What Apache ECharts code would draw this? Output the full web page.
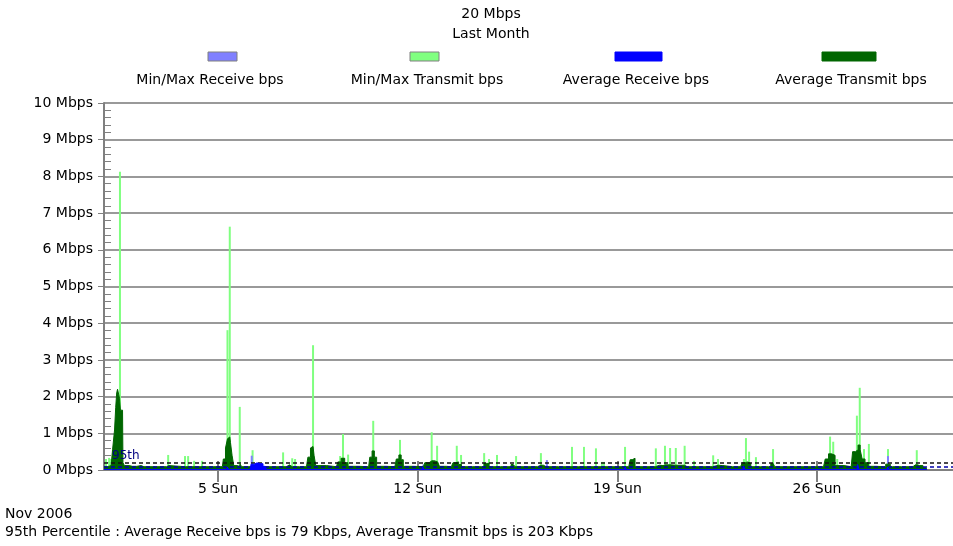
<!DOCTYPE html>
<html>
<head>
<meta charset="utf-8">
<script src="https://cdn.jsdelivr.net/npm/echarts@6/dist/echarts.min.js"></script>
<style>
html, body { margin: 0; padding: 0; background: #fff; }
#chart { width: 953px; height: 546px; }
</style>
</head>
<body>
<div id="chart"></div>
<script>
// x = days since Nov 1 2006 00:00, y = Mbps
const weekTicks = [4, 11, 18, 25]
const weekLabels = ['5 Sun', '12 Sun', '19 Sun', '26 Sun']

const maxTransmit = [
  [0.07, 0.3], [0.18, 0.33], [0.25, 0.3], [0.56, 8.13], [2.25, 0.41], [2.84, 0.38],
  [2.95, 0.38], [3.16, 0.25], [3.44, 0.25], [4.33, 3.81], [4.41, 6.63], [4.76, 1.72],
  [5.21, 0.54], [6.28, 0.48], [6.6, 0.32], [6.7, 0.3], [7.33, 3.4], [8.28, 0.38],
  [8.38, 0.98], [8.56, 0.42], [9.44, 1.34], [10.38, 0.82], [11.49, 1.03], [11.68, 0.66],
  [12.37, 0.66], [12.52, 0.41], [13.33, 0.46], [13.5, 0.3], [13.78, 0.41], [14.45, 0.38],
  [15.32, 0.46], [16.41, 0.63], [16.83, 0.63], [17.25, 0.59], [17.46, 0.22], [17.53, 0.22],
  [18.27, 0.63], [18.52, 0.3], [19.35, 0.59], [19.67, 0.66], [19.85, 0.6], [20.05, 0.6],
  [20.36, 0.66], [20.69, 0.25], [21.36, 0.4], [21.53, 0.3], [22.44, 0.3], [22.51, 0.87],
  [22.62, 0.5], [22.86, 0.35], [23.46, 0.57], [25.46, 0.91], [25.57, 0.77], [25.71, 0.3],
  [26.4, 1.48], [26.5, 2.24], [26.65, 0.57], [26.82, 0.71], [27.49, 0.57], [28.5, 0.54]
]

const maxReceive = [
  [5.18, 0.39], [11.2, 0.15], [15.53, 0.27], [26.4, 0.15], [27.49, 0.38]
]

const avgTransmit = [
  [0, 0.09], [0.25, 0.12], [0.35, 0.55], [0.39, 1.09], [0.43, 1.7], [0.46, 2.1], [0.49, 2.2],
  [0.53, 2.18], [0.56, 1.95], [0.59, 1.63], [0.65, 1.63], [0.68, 0.2], [0.75, 0.12],
  [1.0, 0.1], [1.3, 0.12], [1.4, 0.09], [2.2, 0.09], [2.25, 0.12], [2.3, 0.09],
  [3.4, 0.09], [3.44, 0.14], [3.5, 0.09],
  [4.15, 0.09], [4.22, 0.3], [4.3, 0.6], [4.36, 0.85], [4.41, 0.9], [4.46, 0.75], [4.52, 0.4],
  [4.58, 0.12], [4.75, 0.1], [4.8, 0.16], [4.85, 0.09],
  [6.4, 0.09], [6.5, 0.14], [6.6, 0.09],
  [7.1, 0.09], [7.2, 0.35], [7.28, 0.6], [7.33, 0.64], [7.4, 0.4], [7.45, 0.12],
  [8.15, 0.09], [8.25, 0.22], [8.38, 0.32], [8.5, 0.2], [8.6, 0.1],
  [9.28, 0.09], [9.36, 0.35], [9.44, 0.52], [9.52, 0.35], [9.6, 0.1],
  [10.2, 0.09], [10.3, 0.3], [10.38, 0.41], [10.46, 0.28], [10.53, 0.1],
  [11.2, 0.09], [11.3, 0.2], [11.5, 0.25], [11.7, 0.22], [11.82, 0.1],
  [12.18, 0.09], [12.3, 0.2], [12.37, 0.22], [12.5, 0.15], [12.57, 0.09],
  [13.25, 0.09], [13.4, 0.18], [13.6, 0.09],
  [14.2, 0.09], [14.35, 0.15], [14.48, 0.09],
  [15.2, 0.09], [15.32, 0.13], [15.5, 0.09],
  [16.38, 0.09], [16.42, 0.12], [16.46, 0.09], [16.8, 0.09], [16.84, 0.12], [16.88, 0.09],
  [17.22, 0.09], [17.26, 0.12], [17.3, 0.09],
  [18.4, 0.09], [18.5, 0.28], [18.55, 0.32], [18.69, 0.09],
  [19.33, 0.09], [19.37, 0.13], [19.6, 0.12], [19.7, 0.14], [20.05, 0.13], [20.35, 0.13], [20.45, 0.09],
  [21.34, 0.09], [21.4, 0.13], [21.7, 0.12], [21.76, 0.09],
  [22.32, 0.09], [22.45, 0.2], [22.52, 0.22], [22.62, 0.18], [22.74, 0.09],
  [23.3, 0.09], [23.46, 0.18], [23.58, 0.09],
  [25.23, 0.09], [25.35, 0.3], [25.46, 0.44], [25.57, 0.4], [25.7, 0.12],
  [26.2, 0.09], [26.3, 0.5], [26.4, 0.55], [26.48, 0.68], [26.55, 0.55], [26.62, 0.3],
  [26.75, 0.2], [26.85, 0.1],
  [27.33, 0.09], [27.49, 0.16], [27.65, 0.09],
  [28.28, 0.09], [28.45, 0.14], [28.6, 0.12], [28.83, 0.06], [28.86, 0]
]

const avgReceive = [
  [0, 0.015], [4.3, 0.015], [4.35, 0.08], [4.4, 0.015],
  [5.12, 0.015], [5.2, 0.16], [5.35, 0.19], [5.5, 0.17], [5.65, 0.1], [5.75, 0.015],
  [11.15, 0.015], [11.2, 0.08], [11.25, 0.015], [18.25, 0.015], [18.3, 0.08], [18.35, 0.015],
  [22.4, 0.015], [22.45, 0.1], [22.5, 0.015], [26.4, 0.015], [26.45, 0.15], [26.5, 0.015],
  [27.45, 0.015], [27.5, 0.08], [27.55, 0.015], [28.86, 0.015], [28.87, 0]
]

const p95Receive = 0.079
const p95Transmit = 0.203

const legendItems = [
  { name: 'Min/Max Receive bps', color: '#8080ff', x: 208, w: 29, cx: 210, border: '#808080' },
  { name: 'Min/Max Transmit bps', color: '#80ff80', x: 410, w: 29, cx: 427, border: '#808080' },
  { name: 'Average Receive bps', color: '#0000ff', x: 615, w: 47, cx: 636, border: '#0000ff' },
  { name: 'Average Transmit bps', color: '#006600', x: 822, w: 54, cx: 851, border: '#006600' },
]

const FONT = '14px "DejaVu Sans"'
const chart = echarts.init(document.getElementById('chart'))

const graphic = []
legendItems.forEach(it => {
  graphic.push({
    type: 'rect',
    shape: { x: it.x, y: 52, width: it.w, height: 9 },
    style: { fill: it.color, stroke: it.border, lineWidth: 1 },
  })
  graphic.push({
    type: 'text', x: it.cx, y: 80,
    style: { text: it.name, font: FONT, fill: '#000', align: 'center', verticalAlign: 'middle' },
  })
})
graphic.push({
  type: 'text', x: 491, y: 14,
  style: { text: '20 Mbps', font: FONT, fill: '#000', align: 'center', verticalAlign: 'middle' },
})
graphic.push({
  type: 'text', x: 491, y: 34,
  style: { text: 'Last Month', font: FONT, fill: '#000', align: 'center', verticalAlign: 'middle' },
})
graphic.push({
  type: 'text', x: 5, y: 514,
  style: { text: 'Nov 2006', font: FONT, fill: '#000', verticalAlign: 'middle' },
})
graphic.push({
  type: 'text', x: 5, y: 532,
  style: {
    text: '95th Percentile : Average Receive bps is 79 Kbps, Average Transmit bps is 203 Kbps',
    font: FONT, fill: '#000', verticalAlign: 'middle',
  },
})

const option = {
  animation: false,
  backgroundColor: '#fff',
  textStyle: { fontFamily: 'DejaVu Sans' },
  grid: { left: 104, right: 0, top: 103, bottom: 76 },
  graphic: graphic,
  xAxis: [
    {
      type: 'value', min: 0, max: 29.77,
      axisLine: { show: true, lineStyle: { color: '#808080', width: 2 } },
      axisTick: { show: true, customValues: weekTicks, length: 12, lineStyle: { color: '#808080', width: 2 } },
      axisLabel: {
        customValues: weekTicks, margin: 12, fontSize: 14, color: '#000',
        formatter: v => weekLabels[weekTicks.indexOf(v)] || '',
      },
      splitLine: { show: false },
    },
    {
      type: 'value', min: 0, max: 29.77, position: 'bottom',
      axisLine: { show: false },
      axisTick: { show: true, inside: true, customValues: weekTicks, length: 9, lineStyle: { color: '#808080', width: 2 } },
      axisLabel: { show: false },
      splitLine: { show: false },
    },
  ],
  yAxis: [
    {
      type: 'value', min: 0, max: 10, interval: 1,
      axisLine: { show: true, lineStyle: { color: '#808080', width: 2 } },
      axisTick: { show: true, length: 6, lineStyle: { color: '#808080', width: 1 } },
      minorTick: { show: true, splitNumber: 5, length: -7, lineStyle: { color: '#808080', width: 1 } },
      axisLabel: { margin: 11, fontSize: 14, color: '#000', formatter: v => v + ' Mbps' },
      splitLine: { show: true, lineStyle: { color: '#999', width: 2 } },
    },
  ],
  series: [
    {
      name: 'Min/Max Transmit bps', type: 'bar', data: maxTransmit,
      barWidth: 2, barGap: '-100%', itemStyle: { color: '#80ff80' }, z: 2,
    },
    {
      name: 'Min/Max Receive bps', type: 'bar', data: maxReceive,
      barWidth: 2, barGap: '-100%', itemStyle: { color: '#8080ff' }, z: 3,
    },
    {
      name: 'Average Transmit bps', type: 'line', data: avgTransmit, showSymbol: false, step: 'middle',
      lineStyle: { color: '#006600', width: 1 }, areaStyle: { color: '#006600', opacity: 1 }, z: 4,
      markLine: {
        silent: true, symbol: 'none',
        lineStyle: { color: '#111', type: [4, 3], width: 1.5 },
        label: { show: true, position: 'insideStartTop', formatter: '95th', color: '#000080', fontSize: 12, distance: [8, 1] },
        data: [{ yAxis: p95Transmit }],
      },
    },
    {
      name: 'Average Receive bps', type: 'line', data: avgReceive, showSymbol: false, step: 'middle',
      lineStyle: { color: '#0000ff', width: 1 }, areaStyle: { color: '#0000ff', opacity: 1 }, z: 5,
      markLine: {
        silent: true, symbol: 'none',
        lineStyle: { color: '#0000aa', type: [4, 3], width: 1.5 },
        label: { show: false },
        data: [{ yAxis: p95Receive }],
      },
    },
  ],
}

chart.setOption(option)
</script>
</body>
</html>
